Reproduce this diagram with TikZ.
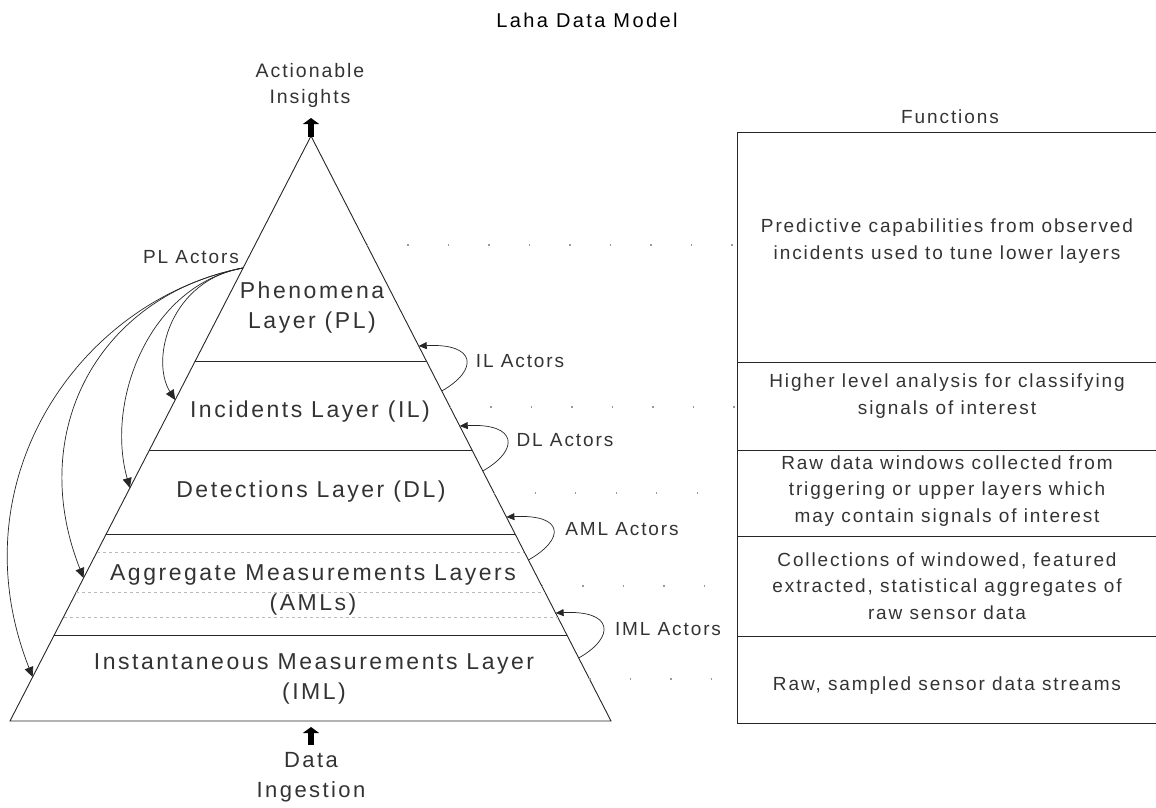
\documentclass[tikz,border=0pt]{standalone}
\usepackage{fontspec}
\setmainfont{Liberation Sans}
\newfontfamily\lsfbig[LetterSpace=11]{Liberation Sans}
\newfontfamily\lsfsmall[LetterSpace=10]{Liberation Sans}
\newfontfamily\lsftitle[LetterSpace=12]{Liberation Sans}
\usetikzlibrary{arrows.meta,calc}
\newcommand\bigtxt{\lsfbig\fontsize{23}{30}\selectfont}
\newcommand\smalltxt{\lsfsmall\fontsize{19}{26.5}\selectfont}
\newcommand\titletxt{\lsftitle\fontsize{20}{24}\selectfont}
\begin{document}
\begin{tikzpicture}[x=1pt,y=-1pt,
  layerlabel/.style={font=\bigtxt, align=center, text=black!80, inner sep=0pt},
  smalllabel/.style={font=\smalltxt, align=center, text=black!80, inner sep=0pt},
  tri/.style={line width=0.9pt, black!85},
  subline/.style={dash pattern=on 3pt off 3pt, gray!55, line width=0.6pt},
  dotrow/.style={dash pattern=on 1.3pt off 39.2pt, line width=1.2pt, gray!80},
  plarrow/.style={line width=0.7pt, black!85, -{Triangle[length=10pt,width=9pt]}},
  actorloop/.style={line width=0.7pt, black!85, -{Triangle[length=8pt,width=7pt]}},
  bigarrow/.style={line width=6.5pt, -{Triangle[length=6pt,width=16pt]}},
  boxline/.style={line width=0.9pt, black!85}]
\useasboundingbox (0,0) rectangle (1156,808);

% pyramid
\coordinate (A) at (311,136);
\coordinate (BL) at (10,721);
\coordinate (BR) at (611,721);
\draw[tri] (A) -- (BL) -- (BR) -- cycle;

% layer boundaries
\draw[tri] ($(A)!0.3846!(BL)$) -- ($(A)!0.3846!(BR)$);
\draw[tri] ($(A)!0.5368!(BL)$) -- ($(A)!0.5368!(BR)$);
\draw[tri] ($(A)!0.6803!(BL)$) -- ($(A)!0.6803!(BR)$);
\draw[tri] ($(A)!0.8530!(BL)$) -- ($(A)!0.8530!(BR)$);
% sub-layers of AML
\draw[subline] ($(A)!0.7111!(BL)$) -- ($(A)!0.7111!(BR)$);
\draw[subline] ($(A)!0.7795!(BL)$) -- ($(A)!0.7795!(BR)$);
\draw[subline] ($(A)!0.8222!(BL)$) -- ($(A)!0.8222!(BR)$);

% title and top/bottom labels
\node[font=\titletxt, text=black, inner sep=0pt] (title) at (587,20) {Laha Data Model};
\node[smalllabel, font=\lsfsmall\fontsize{19.5}{26}\selectfont] (ai) at (310,85) {Actionable\\Insights};
\coordinate (aiarrowbase) at (311,137);
\coordinate (aiarrowtip) at (311,118);
\draw[bigarrow] (aiarrowbase) -- (aiarrowtip);
\node[layerlabel, font=\lsfbig\fontsize{22}{30}\selectfont] (di) at (311,777) {Data\\Ingestion};
\coordinate (diarrowbase) at (311,745);
\coordinate (diarrowtip) at (311,727);
\draw[bigarrow] (diarrowbase) -- (diarrowtip);

% layer labels
\node[layerlabel] (pl) at (312,308) {Phenomena\\Layer (PL)};
\node[layerlabel] (il) at (310,412) {Incidents Layer (IL)};
\node[layerlabel] (dl) at (311,492) {Detections Layer (DL)};
\node[layerlabel] (aml) at (313,590) {Aggregate Measurements Layers\\(AMLs)};
\node[layerlabel] (iml) at (314,679) {Instantaneous Measurements Layer\\(IML)};

% PL actors
\node[smalllabel] (plact) at (191,257) {PL Actors};
\coordinate (O) at ($(A)!0.2256!(BL)$);
\coordinate (t1) at ($(A)!0.4513!(BL)$);
\coordinate (t2) at ($(A)!0.6017!(BL)$);
\coordinate (t3) at ($(A)!0.7556!(BL)$);
\coordinate (t4) at ($(A)!0.9248!(BL)$);
\draw[plarrow] (O) .. controls (170,280) and (150,360) .. (t1);
\draw[plarrow] (O) .. controls (150,285) and (105,400) .. (t2);
\draw[plarrow] (O) .. controls (100,295) and (25,430) .. (t3);
\draw[plarrow] (O) .. controls (80,300) and (-45,480) .. (t4);

% actor loops on the right side
\coordinate (ils) at ($(A)!0.4359!(BR)$);
\coordinate (ilt) at ($(A)!0.3590!(BR)$);
\coordinate (dls) at ($(A)!0.5726!(BR)$);
\coordinate (dlt) at ($(A)!0.4957!(BR)$);
\coordinate (amls) at ($(A)!0.7248!(BR)$);
\coordinate (amlt) at ($(A)!0.6513!(BR)$);
\coordinate (imls) at ($(A)!0.8923!(BR)$);
\coordinate (imlt) at ($(A)!0.8154!(BR)$);
\draw[actorloop] (ils) .. controls ($(ils)+(37,-21)$) and ($(ilt)+(58,-3)$) .. (ilt);
\draw[actorloop] (dls) .. controls ($(dls)+(37,-21)$) and ($(dlt)+(58,-3)$) .. (dlt);
\draw[actorloop] (amls) .. controls ($(amls)+(37,-21)$) and ($(amlt)+(58,-3)$) .. (amlt);
\draw[actorloop] (imls) .. controls ($(imls)+(37,-21)$) and ($(imlt)+(58,-3)$) .. (imlt);
\node[smalllabel] (ilact) at (520,361) {IL Actors};
\node[smalllabel] (dlact) at (565,440) {DL Actors};
\node[smalllabel] (amlact) at (622,529) {AML Actors};
\node[smalllabel] (imlact) at (668,629) {IML Actors};

% functions table
\node[smalllabel] (fn) at (950,117) {Functions};
\draw[boxline] (1156,132) -- (737,132) -- (737,723) -- (1156,723);
\draw[boxline] (737,362) -- (1156,362);
\draw[boxline] (737,450) -- (1156,450);
\draw[boxline] (737,536) -- (1156,536);
\draw[boxline] (737,636) -- (1156,636);
\coordinate (boxleft) at (737,0);
\node[smalllabel] (fpl) at (947,241) {Predictive capabilities from observed\\incidents used to tune lower layers};
\node[smalllabel] (fil) at (947,396) {Higher level analysis for classifying\\signals of interest};
\node[smalllabel] (fdl) at (947,491) {Raw data windows collected from\\triggering or upper layers which\\may contain signals of interest};
\node[smalllabel] (faml) at (947,586) {Collections of windowed, featured\\extracted, statistical aggregates of\\raw sensor data};
\node[smalllabel] (fiml) at (947,686) {Raw, sampled sensor data streams};

% dotted guide rows
\coordinate (d1) at ($(A)!0.1863!(BR)$);
\coordinate (d2) at ($(A)!0.4632!(BR)$);
\coordinate (d3) at ($(A)!0.6103!(BR)$);
\coordinate (d4) at ($(A)!0.7692!(BR)$);
\coordinate (d5) at ($(A)!0.9282!(BR)$);
\draw[dotrow] (d1) -- (d1 -| boxleft);
\draw[dotrow] (d2) -- (d2 -| boxleft);
\draw[dotrow] (d3) -- (d3 -| boxleft);
\draw[dotrow] (d4) -- (d4 -| boxleft);
\draw[dotrow] (d5) -- (d5 -| boxleft);
\end{tikzpicture}
\end{document}
